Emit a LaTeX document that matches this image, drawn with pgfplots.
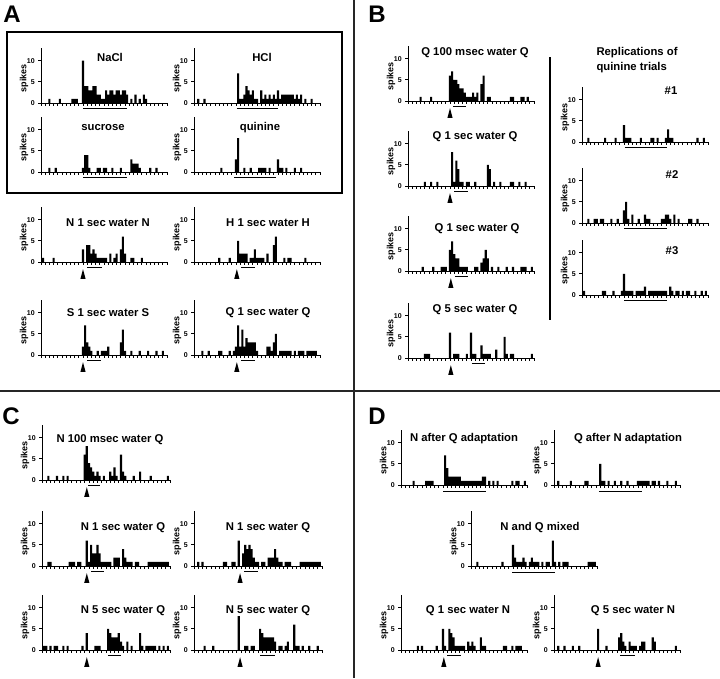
\documentclass[border=0pt]{standalone}
\usepackage{pgfplots}
\pgfplotsset{compat=1.18}
\usepackage{fontspec}
\setmainfont{Liberation Sans}
\newcommand{\ttl}{\bfseries\fontsize{11.3}{15}\selectfont}
\pgfplotsset{
  spk/.style={
    scale only axis, width=126pt, height=55pt,
    xmin=0, xmax=30, ymin=0, ymax=13,
    axis x line*=bottom, axis y line*=left,
    axis line style={line width=0.9pt},
    xtick={0,...,30}, xticklabel=\empty,
    ytick={0,5,10},
    tick align=outside, major tick length=2.8pt,
    tick style={line width=0.8pt, black},
    /pgf/number format/assume math mode=true,
    yticklabel style={font=\bfseries\fontsize{7}{8}\selectfont},
    ylabel={spikes},
    every axis y label/.style={at={(axis description cs:0,0.45)}, xshift=-17pt, rotate=90, anchor=center, font=\bfseries\fontsize{9}{10}\selectfont},
    ybar, bar width=0.5,
    clip=false,
    anchor=south west,
  },
  spkbar/.style={fill=black, draw=none},
}
\newcommand{\stim}[2]{\draw[line width=1.4pt] (axis cs:#1,-1.3) -- (axis cs:#2,-1.3);}
\newcommand{\arr}[1]{\fill (axis cs:#1,-1.7) -- ([xshift=-2.6pt]axis cs:#1,-4) -- ([xshift=2.6pt]axis cs:#1,-4) -- cycle;}
\begin{document}
\begin{tikzpicture}
\path[use as bounding box] (0,0) rectangle (720pt,-678pt);
% separators
\draw[line width=1.5pt, black!85] (354pt,0pt) -- (354pt,-678pt);
\draw[line width=1.5pt, black!85] (0pt,-391pt) -- (720pt,-391pt);
\draw[line width=1.5pt] (7pt,-32pt) rectangle (342pt,-193pt);
\draw[line width=1.2pt] (550pt,-57pt) -- (550pt,-320pt);
% panel letters
\node[font=\bfseries\fontsize{24}{26}\selectfont] at (12pt,-14pt) {A};
\node[font=\bfseries\fontsize{24}{26}\selectfont] at (377pt,-14pt) {B};
\node[font=\bfseries\fontsize{24}{26}\selectfont] at (11pt,-416pt) {C};
\node[font=\bfseries\fontsize{24}{26}\selectfont] at (377pt,-416pt) {D};
% titles
\node[font=\ttl] at (110pt,-57pt) {NaCl};
\node[font=\ttl] at (262pt,-57pt) {HCl};
\node[font=\ttl] at (103pt,-128pt) {sucrose};
\node[font=\ttl] at (260pt,-128pt) {quinine};
\node[font=\ttl] at (108pt,-223pt) {N 1 sec water N};
\node[font=\ttl] at (268pt,-223pt) {H 1 sec water H};
\node[font=\ttl] at (108pt,-313pt) {S 1 sec water S};
\node[font=\ttl] at (268pt,-313pt) {Q 1 sec water Q};
\node[font=\ttl] at (475pt,-53pt) {Q 100 msec water Q};
\node[font=\ttl] at (475pt,-137pt) {Q 1 sec water Q};
\node[font=\ttl] at (477pt,-229pt) {Q 1 sec water Q};
\node[font=\ttl] at (475pt,-310pt) {Q 5 sec water Q};
\node[font=\ttl, anchor=west, align=left] at (593pt,-60.5pt) {Replications of\\quinine trials};
\node[font=\ttl] at (671pt,-91pt) {\#1};
\node[font=\ttl] at (672pt,-175pt) {\#2};
\node[font=\ttl] at (672pt,-251pt) {\#3};
\node[font=\ttl] at (110pt,-440pt) {N 100 msec water Q};
\node[font=\ttl] at (123pt,-528pt) {N 1 sec water Q};
\node[font=\ttl] at (268pt,-528pt) {N 1 sec water Q};
\node[font=\ttl] at (123pt,-611pt) {N 5 sec water Q};
\node[font=\ttl] at (268pt,-611pt) {N 5 sec water Q};
\node[font=\ttl] at (464pt,-439pt) {N after Q adaptation};
\node[font=\ttl] at (628pt,-439pt) {Q after N adaptation};
\node[font=\ttl] at (540pt,-528pt) {N and Q mixed};
\node[font=\ttl] at (468pt,-611pt) {Q 1 sec water N};
\node[font=\ttl] at (633pt,-611pt) {Q 5 sec water N};
% ---------------- A ----------------
\begin{axis}[spk, at={(41pt,-103pt)}]
\addplot[spkbar] coordinates {(2,1)(4.5,1)(7.5,1)(8,1)(8.5,1)(10,10)(10.5,4)(11,4)(11.5,3)(12,3)(12.5,4)(13,4)(13.5,2)(14,2)(14.5,1)(15,1)(15.5,3)(16,2)(16.5,3)(17,3)(17.5,2)(18,3)(18.5,3)(19,2)(19.5,3)(20,3)(20.5,2)(21.5,1)(22.5,2)(23.5,1)(24.5,2)(25,1)};
\stim{10}{20.5}
\end{axis}
\begin{axis}[spk, at={(194pt,-103pt)}]
\addplot[spkbar] coordinates {(1,1)(2.5,1)(10.5,7)(11,1)(11.5,1)(12,2)(12.5,4)(13,3)(13.5,2)(14,3)(14.5,1)(15,1)(16,3)(16.5,1)(17,2)(17.5,1)(18,2)(18.5,1)(19,2)(19.5,1)(20,3)(20.5,1)(21,2)(21.5,2)(22,2)(22.5,2)(23,2)(23.5,2)(24,1)(24.5,2)(25,1)(25.5,2)(26.5,1)(28,1)};
\stim{10.2}{20}
\end{axis}
\begin{axis}[spk, at={(41pt,-172pt)}]
\addplot[spkbar] coordinates {(2,1)(3.5,1)(10,1)(10.5,4)(11,4)(11.5,1)(13.5,1)(14,1)(15,1)(15.5,1)(17,1)(19,1)(21.5,3)(22,2)(22.5,2)(23,2)(23.5,1)(26,1)(27.5,1)};
\stim{10}{20.5}
\end{axis}
\begin{axis}[spk, at={(194pt,-172pt)}]
\addplot[spkbar] coordinates {(6.5,1)(10,3)(10.5,8)(12,1)(13.5,1)(15.5,1)(16,1)(16.5,1)(17,1)(18,1)(20,3)(20.5,1)(21,1)(22,1)(24,1)(25.5,1)};
\stim{9.6}{19.6}
\end{axis}
\begin{axis}[spk, at={(41pt,-262pt)}]
\addplot[spkbar] coordinates {(0.5,1)(3,1)(10,3)(11,4)(11.5,4)(12,2)(12.5,3)(13,2)(13.5,1)(14,1)(14.5,1)(15,1)(15.5,1)(16.5,2)(17.5,1)(18,2)(19,3)(19.5,6)(20,2)(21.5,1)(22,1)(24,1)};
\stim{11}{14.5}\arr{10}
\end{axis}
\begin{axis}[spk, at={(194pt,-262pt)}]
\addplot[spkbar] coordinates {(6,1)(8.5,1)(10.5,5)(11,2)(11.5,2)(12,2)(12.5,2)(13.5,1)(14,1)(14.5,3)(15,1)(15.5,1)(16,1)(16.5,1)(17.5,2)(19,4)(19.5,6)(21.5,1)(22.5,1)(23,1)(26.5,1)};
\stim{11.2}{14.5}\arr{10.2}
\end{axis}
\begin{axis}[spk, at={(41pt,-355pt)}]
\addplot[spkbar] coordinates {(10,2)(10.5,7)(11,3)(11.5,2)(12,1)(13.5,1)(14.5,1)(15,1)(15.5,1)(16,2)(19,3)(19.5,6)(20,1)(21.5,1)(23.5,1)(25.5,1)(27.5,1)(29,1)};
\stim{11}{14.3}\arr{10}
\end{axis}
\begin{axis}[spk, at={(194pt,-355pt)}]
\addplot[spkbar] coordinates {(2,1)(3.5,1)(6,1)(6.5,1)(8.5,1)(9.5,1)(10,2)(10.5,7)(11,2)(11.5,6)(12,2)(12.5,4)(13,3)(13.5,3)(14,3)(14.5,3)(15,1)(17.5,2)(18,2)(18.5,1)(19,3)(19.5,5)(20.5,1)(21,1)(21.5,1)(22,1)(22.5,1)(23,1)(24,1)(25,1)(25.5,1)(26,1)(27,1)(27.5,1)(28,1)(28.5,1)(29,1)};
\stim{11.2}{14.5}\arr{10.2}
\end{axis}
% ---------------- B ----------------
\begin{axis}[spk, at={(408pt,-101pt)}]
\addplot[spkbar] coordinates {(3,1)(5.5,1)(10,6)(10.5,7)(11,5)(11.5,5)(12,4)(12.5,3)(13,3)(13.5,2)(14,1)(14.5,1)(15,1)(15.5,2)(16,1)(16.5,2)(17.5,4)(18,6)(19,1)(19.5,1)(24.5,1)(25,1)(27,1)(27.5,1)(28.5,1)};
\stim{10.7}{13.8}\arr{10}
\end{axis}
\begin{axis}[spk, at={(408pt,-186pt)}]
\addplot[spkbar] coordinates {(4,1)(5.5,1)(7,1)(10.5,8)(11,1)(11.5,6)(12,4)(12.5,1)(13,1)(14,1)(14.5,1)(16,1)(19,5)(19.5,4)(20.5,1)(22,1)(24.5,1)(25,1)(26.5,1)(28,1)};
\stim{11}{14.3}\arr{10}
\end{axis}
\begin{axis}[spk, at={(408pt,-271pt)}]
\addplot[spkbar] coordinates {(3.5,1)(6,1)(8,1)(8.5,1)(9,1)(10,5)(10.5,7)(11,4)(11.5,3)(12,3)(12.5,1)(13,1)(13.5,1)(14,1)(16,1)(16.5,1)(17.5,2)(18,3)(18.5,5)(19,3)(20,1)(21.5,1)(23.5,1)(25,1)(27,1)(27.5,1)(28,1)(29.5,1)};
\stim{11.2}{14.3}\arr{10.2}
\end{axis}
\begin{axis}[spk, at={(408pt,-358pt)}]
\addplot[spkbar] coordinates {(4,1)(4.5,1)(5,1)(10,6)(11,1)(11.5,1)(12,1)(14,1)(15,6)(15.5,1)(16,1)(17.5,3)(18,1)(18.5,1)(19,1)(19.5,1)(21,2)(23,5)(23.5,1)(24.5,1)(25,1)(29.5,1)};
\stim{15.2}{18.3}\arr{10.2}
\end{axis}
\begin{axis}[spk, at={(582pt,-142pt)}]
\addplot[spkbar] coordinates {(1.5,1)(5.5,1)(8,1)(10,4)(10.5,1)(11,1)(11.5,1)(14,1)(16.5,1)(17,1)(18,1)(20,1)(20.5,3)(21,1)(21.5,1)(27.5,1)(29,1)};
\stim{10.2}{20.2}
\end{axis}
\begin{axis}[spk, at={(582pt,-223pt)}]
\addplot[spkbar] coordinates {(1.5,1)(3,1)(3.5,1)(4.5,1)(5,1)(7,1)(8.5,1)(10,3)(10.5,5)(11,1)(12,2)(13.5,1)(15,2)(15.5,1)(16,1)(19,1)(19.5,1)(20,2)(20.5,2)(21,1)(22,2)(23,1)(25.5,1)(26,1)(27.5,1)};
\stim{10}{20.2}
\end{axis}
\begin{axis}[spk, at={(582pt,-295pt)}]
\addplot[spkbar] coordinates {(0.5,1)(5,1)(5.5,1)(7.5,1)(9.5,1)(10,5)(10.5,1)(11,1)(11.5,1)(12,1)(13,1)(13.5,1)(14,1)(14.5,1)(15,2)(16,1)(16.5,1)(17,1)(17.5,1)(18,1)(18.5,1)(19,1)(19.5,1)(20,1)(21,2)(21.5,1)(22.5,1)(23,1)(24,1)(25,1)(25.5,1)(27,1)(28.5,1)(29.5,1)};
\stim{10}{20.2}
\end{axis}
% ---------------- C ----------------
\begin{axis}[spk, width=128pt, at={(42pt,-480pt)}]
\addplot[spkbar] coordinates {(1.5,1)(3.5,1)(5,1)(6,1)(10,6)(10.5,8)(11,4)(11.5,3)(12,2)(12.5,1)(13,2)(13.5,1)(14.5,1)(16,2)(16.5,1)(17,3)(17.5,1)(18.5,6)(19,2)(19.5,1)(21.5,1)(23,2)(25.5,1)(29.5,1)};
\stim{10.8}{13.6}\arr{10.5}
\end{axis}
\begin{axis}[spk, width=128pt, at={(42pt,-566pt)}]
\addplot[spkbar] coordinates {(1.5,1)(2,1)(6.5,1)(7,1)(7.5,1)(8.5,1)(9,1)(10.5,6)(11,1)(11.5,5)(12,3)(12.5,3)(13,5)(13.5,3)(14,1)(14.5,1)(15,1)(15.5,1)(16,1)(17,2)(17.5,2)(18,2)(19,4)(19.5,2)(20,1)(20.5,1)(21,1)(22,1)(22.5,1)(25,1)(25.5,1)(26,1)(26.5,1)(27,1)(27.5,1)(28,1)(28.5,1)(29,1)(29.5,1)};
\stim{11.5}{14.5}\arr{10.5}
\end{axis}
\begin{axis}[spk, width=128pt, at={(194pt,-566pt)}]
\addplot[spkbar] coordinates {(1,1)(2,1)(7,1)(7.5,1)(9,1)(9.5,1)(10.5,6)(11.5,3)(12,5)(12.5,4)(13,5)(13.5,4)(14,2)(14.5,1)(15,1)(16,1)(16.5,1)(17.5,2)(18,2)(18.5,2)(19,4)(19.5,2)(20,1)(20.5,1)(21.5,1)(22,1)(22.5,1)(25,1)(25.5,1)(26,1)(26.5,1)(27,1)(27.5,1)(28,1)(28.5,1)(29,1)(29.5,1)};
\stim{11.7}{15}\arr{10.8}
\end{axis}
\begin{axis}[spk, width=128pt, at={(42pt,-650pt)}]
\addplot[spkbar] coordinates {(0.5,1)(1,1)(2,1)(3,1)(3.5,1)(5,1)(6,1)(9.5,1)(10.5,4)(12.5,1)(13,1)(13.5,1)(15.5,5)(16,4)(16.5,3)(17,3)(17.5,3)(18,4)(18.5,2)(19,1)(20,2)(21,1)(23,4)(23.5,1)(24.5,1)(25,1)(25.5,1)(26,1)(26.5,1)(27.5,1)(28.5,1)(29.5,1)};
\stim{15.5}{18.5}\arr{10.5}
\end{axis}
\begin{axis}[spk, width=128pt, at={(194pt,-650pt)}]
\addplot[spkbar] coordinates {(2.5,1)(4.5,1)(10.5,8)(12,1)(12.5,1)(13.5,1)(14,1)(15.5,5)(16,4)(16.5,3)(17,3)(17.5,3)(18,3)(18.5,3)(19,2)(20,1)(20.5,1)(21.5,1)(22,2)(23.5,6)(24,1)(24.5,1)(25.5,1)(27,1)(29,1)};
\stim{15.5}{19}\arr{10.8}
\end{axis}
% ---------------- D ----------------
\begin{axis}[spk, at={(401pt,-485pt)}]
\addplot[spkbar] coordinates {(3,1)(6,1)(6.5,1)(7,1)(7.5,1)(10.5,7)(11,4)(11.5,2)(12,2)(12.5,2)(13,2)(13.5,2)(14,2)(14.5,1)(15,1)(15.5,1)(16,1)(16.5,1)(17,1)(17.5,1)(18,1)(18.5,1)(19,1)(19.5,2)(20,2)(21,1)(22,1)(23,1)(26.5,1)(27.5,1)(28,1)(29.5,1)};
\draw[line width=1.4pt] (axis cs:10,-1.6) -- (axis cs:20.2,-1.6);
\end{axis}
\begin{axis}[spk, at={(554pt,-485pt)}]
\addplot[spkbar] coordinates {(1,1)(4,1)(7.5,1)(8,1)(11,5)(11.5,1)(12,1)(13,1)(14.5,1)(16,1)(17.5,1)(20,1)(20.5,1)(21,1)(21.5,1)(22,1)(22.5,1)(23.5,1)(24,1)(25,1)(27,1)(29,1)};
\draw[line width=1.4pt] (axis cs:10.7,-1.6) -- (axis cs:21,-1.6);
\end{axis}
\begin{axis}[spk, at={(471pt,-566pt)}]
\addplot[spkbar] coordinates {(1.5,1)(7.5,1)(10,5)(10.5,2)(11,1)(11.5,1)(12,1)(12.5,2)(13,1)(14,1)(14.5,2)(15,1)(15.5,1)(16,1)(17,1)(18,1)(18.5,1)(19.5,6)(20,1)(21,1)(22,1)(22.5,1)(23,1)(28,1)(28.5,1)(29,1)(29.5,1)};
\draw[line width=1.4pt] (axis cs:9.8,-1.5) -- (axis cs:20,-1.5);
\end{axis}
\begin{axis}[spk, at={(401pt,-650pt)}]
\addplot[spkbar] coordinates {(4,1)(5,1)(8.5,1)(10,5)(10.5,1)(11.5,5)(12,4)(12.5,3)(13,1)(13.5,1)(14,1)(14.5,1)(15,1)(16,2)(16.5,1)(17,2)(17.5,1)(19,3)(19.5,1)(20,1)(24.5,1)(25,1)(26.5,1)(27.5,1)(28,1)(28.5,1)};
\stim{11}{14.3}\arr{10.2}
\end{axis}
\begin{axis}[spk, at={(554pt,-650pt)}]
\addplot[spkbar] coordinates {(1,1)(2.5,1)(4.5,1)(6,1)(10.5,5)(12.5,1)(15.5,3)(16,4)(16.5,2)(17,1)(18,2)(18.5,1)(19,1)(19.5,1)(20.5,1)(21,2)(21.5,2)(23.5,3)(24,2)(29,1)};
\stim{15.7}{19.3}\arr{10.5}
\end{axis}
\end{tikzpicture}
\end{document}
